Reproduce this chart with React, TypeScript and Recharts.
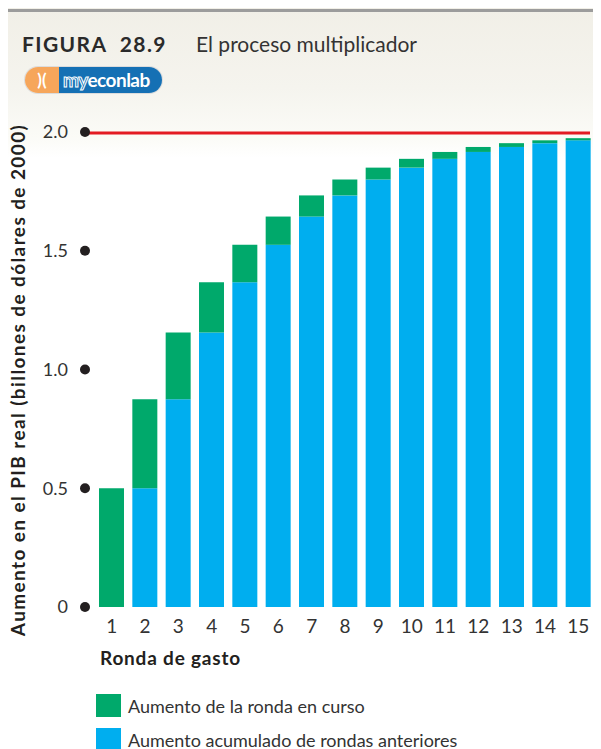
import React from 'react';
import { BarChart, Bar, XAxis, YAxis, ReferenceLine } from 'recharts';

const rounds = ['1', '2', '3', '4', '5', '6', '7', '8', '9', '10', '11', '12', '13', '14', '15'];
// aumento acumulado de rondas anteriores
const previousRounds = [0, 0.5, 0.875, 1.156, 1.367, 1.525, 1.644, 1.733, 1.8, 1.85, 1.887, 1.916, 1.937, 1.953, 1.965];
// aumento de la ronda en curso
const currentRound = [0.5, 0.375, 0.281, 0.211, 0.158, 0.119, 0.089, 0.067, 0.05, 0.037, 0.029, 0.021, 0.016, 0.012, 0.009];
const yTicks = [0, 0.5, 1, 1.5, 2];
const yTickLabels = ['0', '0.5', '1.0', '1.5', '2.0'];

const seriesNames = ['Aumento de la ronda en curso', 'Aumento acumulado de rondas anteriores'];
const GREEN = '#00a96b';
const BLUE = '#00aeef';
const RED = '#e31b23';
const INK = '#231f20';
const FONT = 'Lato, "Open Sans", sans-serif';

const data = rounds.map((r, i) => ({ round: r, prev: previousRounds[i], curr: currentRound[i] }));

const YTick = ({ x, y, payload }: any) => {
  const idx = yTicks.indexOf(payload.value);
  return (
    <g>
      <text x={x - 27} y={y} dy="0.35em" textAnchor="end" fontSize={18} fill="#333" fontFamily={FONT}>
        {yTickLabels[idx] ?? payload.value}
      </text>
      <circle cx={x - 10} cy={y} r={5} fill={INK} />
    </g>
  );
};

const XTick = ({ x, y, payload }: any) => (
  <text x={x} y={y + 26} textAnchor="middle" fontSize={19} fill="#333" fontFamily={FONT}>
    {payload.value}
  </text>
);

const RedLine = ({ x1, x2, y1 }: any) => (
  <line x1={x1 - 12} x2={x2 - 5} y1={y1 + 1} y2={y1 + 1} stroke={RED} strokeWidth={3} />
);

export default function App() {
  return (
    <div
      style={{
        position: 'relative',
        width: 593,
        height: 741,
        fontFamily: FONT,
        color: INK,
        background: 'linear-gradient(to bottom, #f1efe7 0px, #f5f4ee 80px, #fbfbf7 130px, #ffffff 150px)',
      }}
    >
      <div style={{ position: 'absolute', left: 0, top: 1, width: 593, height: 3, background: '#9c9c9c' }} />

      <div style={{ position: 'absolute', left: 14, top: 22, whiteSpace: 'nowrap', lineHeight: '28px' }}>
        <span style={{ fontSize: 21, fontWeight: 700, letterSpacing: 1.4, color: '#2a2a2a' }}>FIGURA&nbsp;&nbsp;28.9</span>
      </div>
      <div style={{ position: 'absolute', left: 188, top: 22, whiteSpace: 'nowrap', lineHeight: '28px', fontSize: 21, color: '#333' }}>
        El proceso multiplicador
      </div>

      <div
        style={{
          position: 'absolute', left: 17, top: 59, width: 137, height: 26, borderRadius: 13,
          overflow: 'hidden', display: 'flex', boxShadow: '0 0 0 1px #dcdcdc',
        }}
      >
        <div style={{ width: 34, background: '#f6a65b', color: '#fff', fontSize: 17, fontWeight: 700, textAlign: 'center', lineHeight: '26px' }}>
          )(
        </div>
        <div style={{ flex: 1, background: '#1570b4', color: '#fff', fontSize: 19, fontWeight: 700, lineHeight: '26px', paddingLeft: 4, letterSpacing: -0.5 }}>
          <span style={{ color: '#1570b4', WebkitTextStroke: '1px #fff' }}>my</span>econlab
        </div>
      </div>

      <div
        style={{
          position: 'absolute', left: -260, top: 360, width: 540, height: 24, lineHeight: '24px',
          transform: 'rotate(-90deg)', textAlign: 'center', fontSize: 19, fontWeight: 700,
          letterSpacing: 1.4, whiteSpace: 'nowrap', color: INK,
        }}
      >
        Aumento en el PIB real (billones de dólares de 2000)
      </div>

      <div style={{ position: 'absolute', left: 0, top: 100 }}>
        <BarChart width={593} height={560} data={data} margin={{ top: 24, right: 6, left: 0, bottom: 0 }} barSize={25}>
          <XAxis dataKey="round" height={61} axisLine={false} tickLine={false} tickSize={0} tickMargin={0} tick={<XTick />} interval={0} />
          <YAxis
            width={87}
            domain={[0, 2]}
            ticks={yTicks}
            axisLine={false}
            tickLine={false}
            tickSize={0}
            tickMargin={0}
            tick={<YTick />}
            interval={0}
          />
          <ReferenceLine y={2} shape={<RedLine />} />
          <Bar dataKey="prev" stackId="a" fill={BLUE} isAnimationActive={false} name={seriesNames[1]} />
          <Bar dataKey="curr" stackId="a" fill={GREEN} isAnimationActive={false} name={seriesNames[0]} />
        </BarChart>
      </div>

      <div style={{ position: 'absolute', left: 92, top: 638, fontSize: 19, fontWeight: 700, letterSpacing: 0.8, color: INK }}>
        Ronda de gasto
      </div>

      {seriesNames.map((name, i) => (
        <div key={name} style={{ position: 'absolute', left: 88, top: 686 + i * 34, display: 'flex', alignItems: 'center' }}>
          <div style={{ width: 25, height: 23, background: i === 0 ? GREEN : BLUE }} />
          <span style={{ marginLeft: 7, fontSize: 18, color: '#333' }}>{name}</span>
        </div>
      ))}
    </div>
  );
}
